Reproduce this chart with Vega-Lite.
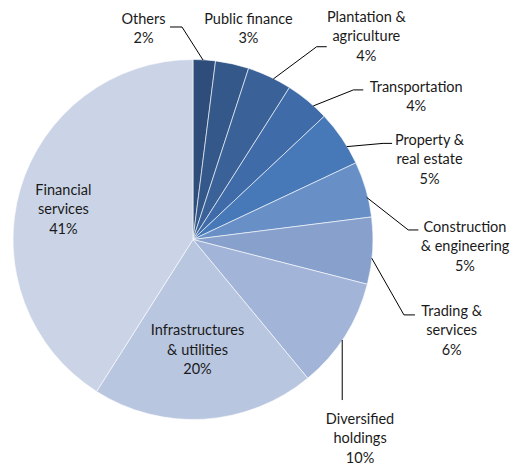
{
  "$schema": "https://vega.github.io/schema/vega-lite/v6.json",
  "width": 518,
  "height": 468,
  "padding": 0,
  "autosize": {"type": "none"},
  "background": "white",
  "config": {"view": {"stroke": null}},
  "datasets": {
    "sectors": [
      {"ord": 1, "sector": "Others", "share": 2, "label": "Others\n2%", "lx": -0.275, "ly": 1.2206},
      {"ord": 2, "sector": "Public finance", "share": 3, "label": "Public finance\n3%", "lx": 0.308, "ly": 1.2206},
      {"ord": 3, "sector": "Plantation & agriculture", "share": 4, "label": "Plantation &\nagriculture\n4%", "lx": 0.963, "ly": 1.2317},
      {"ord": 4, "sector": "Transportation", "share": 4, "label": "Transportation\n4%", "lx": 1.24, "ly": 0.8428},
      {"ord": 5, "sector": "Property & real estate", "share": 5, "label": "Property &\nreal estate\n5%", "lx": 1.314, "ly": 0.5483},
      {"ord": 6, "sector": "Construction & engineering", "share": 5, "label": "Construction\n& engineering\n5%", "lx": 1.511, "ly": 0.065},
      {"ord": 7, "sector": "Trading & services", "share": 6, "label": "Trading &\nservices\n6%", "lx": 1.437, "ly": -0.4017},
      {"ord": 8, "sector": "Diversified holdings", "share": 10, "label": "Diversified\nholdings\n10%", "lx": 0.928, "ly": -1.0017},
      {"ord": 9, "sector": "Infrastructures & utilities", "share": 20, "label": "Infrastructures\n& utilities\n20%", "lx": 0.025, "ly": -0.5089},
      {"ord": 10, "sector": "Financial services", "share": 41, "label": "Financial\nservices\n41%", "lx": -0.72, "ly": 0.2706}
    ],
    "leaders": [
      {"sector": "Others", "pt": 1, "u": 0.0556, "v": 0.9972},
      {"sector": "Others", "pt": 2, "u": -0.0611, "v": 1.1806},
      {"sector": "Others", "pt": 3, "u": -0.1278, "v": 1.1806},
      {"sector": "Plantation & agriculture", "pt": 1, "u": 0.446, "v": 0.8917},
      {"sector": "Plantation & agriculture", "pt": 2, "u": 0.687, "v": 1.071},
      {"sector": "Plantation & agriculture", "pt": 3, "u": 0.743, "v": 1.071},
      {"sector": "Transportation", "pt": 1, "u": 0.668, "v": 0.742},
      {"sector": "Transportation", "pt": 2, "u": 0.891, "v": 0.831},
      {"sector": "Transportation", "pt": 3, "u": 0.946, "v": 0.831},
      {"sector": "Property & real estate", "pt": 1, "u": 0.854, "v": 0.516},
      {"sector": "Property & real estate", "pt": 2, "u": 1.056, "v": 0.534},
      {"sector": "Property & real estate", "pt": 3, "u": 1.106, "v": 0.534},
      {"sector": "Construction & engineering", "pt": 1, "u": 0.965, "v": 0.234},
      {"sector": "Construction & engineering", "pt": 2, "u": 1.196, "v": 0.053},
      {"sector": "Construction & engineering", "pt": 3, "u": 1.252, "v": 0.053},
      {"sector": "Trading & services", "pt": 1, "u": 0.993, "v": -0.104},
      {"sector": "Trading & services", "pt": 2, "u": 1.172, "v": -0.419},
      {"sector": "Trading & services", "pt": 3, "u": 1.233, "v": -0.419},
      {"sector": "Diversified holdings", "pt": 1, "u": 0.829, "v": -0.558},
      {"sector": "Diversified holdings", "pt": 2, "u": 0.829, "v": -0.892}
    ]
  },
  "layer": [
    {
      "data": {"name": "sectors"},
      "mark": {"type": "arc", "outerRadius": 180, "stroke": "white", "strokeWidth": 0.6},
      "encoding": {
        "x": {"datum": 0, "type": "quantitative", "scale": {"domain": [-1.07222, 1.80556], "nice": false, "zero": false}, "axis": null},
        "y": {"datum": 0, "type": "quantitative", "scale": {"domain": [-1.26944, 1.33056], "nice": false, "zero": false}, "axis": null},
        "theta": {"field": "share", "type": "quantitative", "stack": true},
        "order": {"field": "ord", "type": "quantitative"},
        "color": {
          "field": "sector", "type": "nominal", "legend": null,
          "scale": {
            "domain": ["Others", "Public finance", "Plantation & agriculture", "Transportation", "Property & real estate", "Construction & engineering", "Trading & services", "Diversified holdings", "Infrastructures & utilities", "Financial services"],
            "range": ["#2E4D7B", "#345889", "#3A6298", "#3F6CA8", "#4779B8", "#6890C6", "#87A1CC", "#A2B4D8", "#B9C6E0", "#CBD4E6"]
          }
        }
      }
    },
    {
      "data": {"name": "leaders"},
      "mark": {"type": "line", "color": "black", "strokeWidth": 1},
      "encoding": {
        "x": {"field": "u", "type": "quantitative", "scale": {"domain": [-1.07222, 1.80556], "nice": false, "zero": false}, "axis": null},
        "y": {"field": "v", "type": "quantitative", "scale": {"domain": [-1.26944, 1.33056], "nice": false, "zero": false}, "axis": null},
        "detail": {"field": "sector", "type": "nominal"},
        "order": {"field": "pt", "type": "quantitative"}
      }
    },
    {
      "data": {"name": "sectors"},
      "mark": {"type": "text", "lineBreak": "\n", "lineHeight": 19.5, "font": "Lato", "fontSize": 14.5, "color": "#1a1a1a", "align": "center", "baseline": "middle"},
      "encoding": {
        "x": {"field": "lx", "type": "quantitative", "scale": {"domain": [-1.07222, 1.80556], "nice": false, "zero": false}, "axis": null},
        "y": {"field": "ly", "type": "quantitative", "scale": {"domain": [-1.26944, 1.33056], "nice": false, "zero": false}, "axis": null},
        "text": {"field": "label", "type": "nominal"}
      }
    }
  ]
}
